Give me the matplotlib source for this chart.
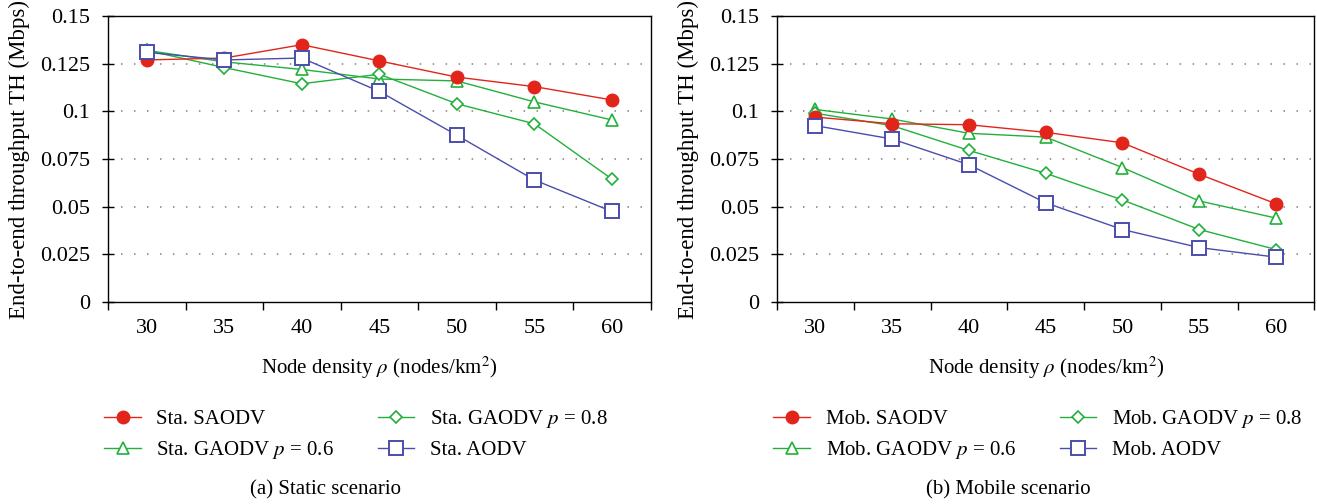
import numpy as np
import matplotlib
matplotlib.use("Agg")
import matplotlib.pyplot as plt

plt.rcParams['font.family'] = ['Liberation Serif', 'DejaVu Serif']
plt.rcParams['mathtext.fontset'] = 'stix'

# node densities (categories)
densities = ['30', '35', '40', '45', '50', '55', '60']

# static scenario throughput (Mbps)
sta_saodv = [0.127, 0.128, 0.135, 0.1265, 0.118, 0.113, 0.106]
sta_gaodv06 = [0.132, 0.126, 0.122, 0.117, 0.116, 0.105, 0.0955]
sta_gaodv08 = [0.132, 0.123, 0.1145, 0.1195, 0.104, 0.0935, 0.0645]
sta_aodv = [0.131, 0.127, 0.128, 0.1105, 0.0875, 0.064, 0.0475]

# mobile scenario throughput (Mbps)
mob_saodv = [0.097, 0.0935, 0.093, 0.089, 0.0835, 0.067, 0.0515]
mob_gaodv06 = [0.101, 0.096, 0.0885, 0.0865, 0.0705, 0.053, 0.044]
mob_gaodv08 = [0.099, 0.0925, 0.0795, 0.0675, 0.0535, 0.038, 0.0275]
mob_aodv = [0.0925, 0.0855, 0.072, 0.052, 0.038, 0.0285, 0.0235]

y_ticks = [0, 0.025, 0.05, 0.075, 0.1, 0.125, 0.15]
y_labels = ['0', '0.025', '0.05', '0.075', '0.1', '0.125', '0.15']

red = '#e2251b'
green = '#22b03a'
blue = '#4a4dab'

fig = plt.figure(figsize=(13.17, 5.04), dpi=100)
ax1 = fig.add_axes([0.082, 0.401, 0.412, 0.567])
ax2 = fig.add_axes([0.590, 0.401, 0.408, 0.567])


def draw(ax, series, prefix, caption, cap_x):
    x = np.arange(len(densities))
    saodv, g06, g08, aodv = series
    ax.plot(x, saodv, color=red, lw=1, marker='o', ms=9, mfc=red, mec=red,
            label=prefix + ' SAODV', zorder=5)
    ax.plot(x, g06, color=green, lw=1, marker='^', ms=9, mfc='white', mec=green,
            mew=1.2, label=prefix + ' GAODV $p$ = 0.6', zorder=4)
    ax.plot(x, g08, color=green, lw=1, marker='D', ms=6.5, mfc='white', mec=green,
            mew=1.2, label=prefix + ' GAODV $p$ = 0.8', zorder=4)
    ax.plot(x, aodv, color=blue, lw=1, marker='s', ms=10, mfc='white', mec=blue,
            mew=1.4, label=prefix + ' AODV', zorder=6)

    ax.set_xlim(-0.5, len(densities) - 0.5)
    ax.set_ylim(0, 0.15)
    for yv in y_ticks[1:-1]:
        ax.axhline(yv, color='#808080', lw=1.1, ls=(0, (1, 7.5)), zorder=1)

    ax.set_yticks(y_ticks)
    ax.set_yticklabels(y_labels)
    ax.set_xticks(np.arange(-0.5, len(densities)))
    ax.set_xticklabels([])
    ax.set_xticks(x, minor=True)
    ax.set_xticklabels(densities, minor=True)
    ax.tick_params(axis='x', which='major', direction='out', length=6, width=1)
    ax.tick_params(axis='x', which='minor', length=0, pad=12, labelsize=16)
    ax.tick_params(axis='y', direction='inout', length=8, width=1, labelsize=16, pad=9)
    for s in ax.spines.values():
        s.set_linewidth(1)

    ax.set_ylabel('End-to-end throughput TH (Mbps)', fontsize=16.5, labelpad=7)
    ax.set_xlabel(r'Node density $\rho$ (nodes/km$^2$)', fontsize=15, labelpad=12)

    ax.legend(loc='upper left', bbox_to_anchor=(-0.026, -0.335), ncol=2,
              frameon=False, fontsize=15, handlelength=1.75, handletextpad=0.75,
              columnspacing=2.1, labelspacing=0.5, borderpad=0)
    fig.text(cap_x, 0.028, caption, ha='center', va='center', fontsize=15)


draw(ax1, [sta_saodv, sta_gaodv06, sta_gaodv08, sta_aodv], 'Sta.',
     '(a) Static scenario', 326 / 1317)
draw(ax2, [mob_saodv, mob_gaodv06, mob_gaodv08, mob_aodv], 'Mob.',
     '(b) Mobile scenario', 1008 / 1317)

fig.savefig('out.png', dpi=100)
